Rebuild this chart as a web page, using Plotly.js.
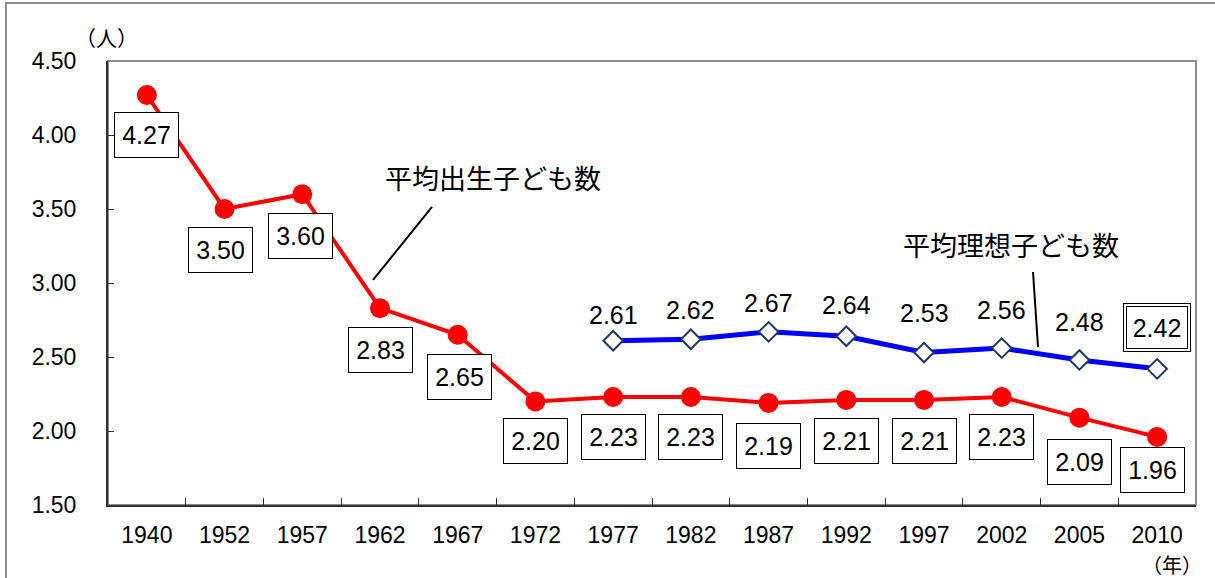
<!DOCTYPE html>
<html>
<head>
<meta charset="utf-8">
<script src="https://cdn.plot.ly/plotly-3.0.1.min.js"></script>
<style>
  body { margin: 0; background: #fff; }
  #wrap { position: relative; width: 1215px; height: 578px; }
  #frame { position: absolute; left: 5px; top: 2px; width: 1300px; height: 700px;
           border-left: 2px solid #8c8c8c; border-top: 2px solid #8c8c8c; pointer-events: none; }
</style>
</head>
<body>
<div id="wrap">
  <div id="chart" style="width:1215px;height:578px;"></div>
  <div id="frame"></div>
</div>
<script>
// data ---------------
let years = ['1940','1952','1957','1962','1967','1972','1977','1982','1987','1992','1997','2002','2005','2010']
let born = [4.27, 3.50, 3.60, 2.83, 2.65, 2.20, 2.23, 2.23, 2.19, 2.21, 2.21, 2.23, 2.09, 1.96]
let idealYears = ['1977','1982','1987','1992','1997','2002','2005','2010']
let ideal = [2.61, 2.62, 2.67, 2.64, 2.53, 2.56, 2.48, 2.42]
let yTicks = [1.5, 2.0, 2.5, 3.0, 3.5, 4.0, 4.5]

// label offsets (px) -------
let bornShift = [40, 41, 42, 42, 42, 40, 40, 40, 43, 41, 41, 40, 44, 33]
let bornDx = [0, -4, -2, 0, 2, 0, 0, 0, 0, 0, 0, 0, 0, -5]
let idealShift = [26, 29, 29, 31, 40, 38, 38, 41]

let numFont = 'Liberation Sans, Arial, Noto Sans CJK JP, sans-serif'
let jpFont = 'Noto Sans CJK JP, sans-serif'

let trace1 = {
  x: years, y: born, type: 'scatter', mode: 'lines+markers',
  line: {color: '#ff0000', width: 4},
  marker: {symbol: 'circle', size: 20, color: '#ff0000'},
  hoverinfo: 'skip'
}
let trace2 = {
  x: idealYears, y: ideal, type: 'scatter', mode: 'lines+markers',
  line: {color: '#0000ff', width: 5},
  marker: {symbol: 'diamond', size: 15, color: '#ffffff', line: {color: '#1f3864', width: 2}},
  hoverinfo: 'skip'
}

let annotations = []
for (let i = 0; i < years.length; i++) {
  annotations.push({
    x: i, y: born[i], text: born[i].toFixed(2), showarrow: false,
    yshift: -bornShift[i], xshift: bornDx[i],
    font: {family: numFont, size: 25, color: '#000'},
    bgcolor: '#ffffff', bordercolor: '#000000', borderwidth: 1, borderpad: 4,
    width: 55, height: 36
  })
}
for (let i = 0; i < idealYears.length; i++) {
  let xi = years.indexOf(idealYears[i])
  let last = i === idealYears.length - 1
  if (last) {
    annotations.push({
      x: xi, y: ideal[i], text: ' ', showarrow: false, yshift: idealShift[i],
      bgcolor: '#ffffff', bordercolor: '#000000', borderwidth: 1, borderpad: 3,
      width: 60, height: 41, font: {size: 25}
    })
  }
  annotations.push({
    x: xi, y: ideal[i], text: ideal[i].toFixed(2), showarrow: false,
    yshift: idealShift[i],
    font: {family: numFont, size: 25, color: '#000'},
    bgcolor: last ? '#ffffff' : 'rgba(0,0,0,0)',
    bordercolor: last ? '#000000' : 'rgba(0,0,0,0)', borderwidth: 1, borderpad: 2,
    width: last ? 56 : undefined, height: last ? 37 : undefined
  })
}
annotations.push(
  {xref: 'paper', yref: 'paper', x: 0.354, y: 0.7365, xanchor: 'center', yanchor: 'middle',
   text: '平均出生子ども数', showarrow: false, font: {family: jpFont, size: 27, color: '#000'}},
  {xref: 'paper', yref: 'paper', x: 0.830, y: 0.5878, xanchor: 'center', yanchor: 'middle',
   text: '平均理想子ども数', showarrow: false, font: {family: jpFont, size: 27, color: '#000'}},
  {xref: 'paper', yref: 'paper', x: -0.001, y: 1.054, xanchor: 'center', yanchor: 'middle',
   text: '（人）', showarrow: false, font: {family: jpFont, size: 21, color: '#000'}},
  {xref: 'paper', yref: 'paper', x: 0.978, y: -0.135, xanchor: 'center', yanchor: 'middle',
   text: '（年）', showarrow: false, font: {family: jpFont, size: 20, color: '#000'}}
)

let layout = {
  width: 1215, height: 578,
  margin: {l: 108, r: 19, t: 61, b: 73},
  paper_bgcolor: '#ffffff', plot_bgcolor: '#ffffff',
  showlegend: false,
  font: {family: numFont, color: '#000'},
  xaxis: {
    type: 'category', categoryorder: 'array', categoryarray: years,
    range: [-0.5, years.length - 0.5], autorange: false,
    showgrid: false, zeroline: false,
    showline: true, linecolor: '#333333', linewidth: 2,
    ticks: 'inside', tickson: 'boundaries', ticklen: 7, tickcolor: '#333333', tickwidth: 1,
    ticklabelstandoff: 8, tickangle: 0,
    tickfont: {family: numFont, size: 23, color: '#000'}
  },
  yaxis: {
    range: [1.5, 4.5], autorange: false, tickvals: yTicks, ticktext: yTicks.map(v => v.toFixed(2)),
    showgrid: false, zeroline: false,
    showline: true, linecolor: '#333333', linewidth: 2,
    ticks: 'inside', ticklen: 6, tickcolor: '#333333', tickwidth: 1,
    ticklabelstandoff: 25,
    tickfont: {family: numFont, size: 23, color: '#000'}
  },
  shapes: [
    {type: 'rect', xref: 'paper', yref: 'paper', x0: 0, x1: 1, y0: 0, y1: 1,
     line: {color: '#8c8c8c', width: 2}, layer: 'below'},
    {type: 'line', xref: 'paper', yref: 'paper', x0: 0.2436, y0: 0.5068, x1: 0.2978, y1: 0.6712,
     line: {color: '#000', width: 2}},
    {type: 'line', xref: 'paper', yref: 'paper', x0: 0.8502, y0: 0.5248, x1: 0.8548, y1: 0.3559,
     line: {color: '#000', width: 2}}
  ],
  annotations: annotations
}

Plotly.newPlot('chart', [trace1, trace2], layout, {displayModeBar: false, staticPlot: true})
</script>
</body>
</html>
